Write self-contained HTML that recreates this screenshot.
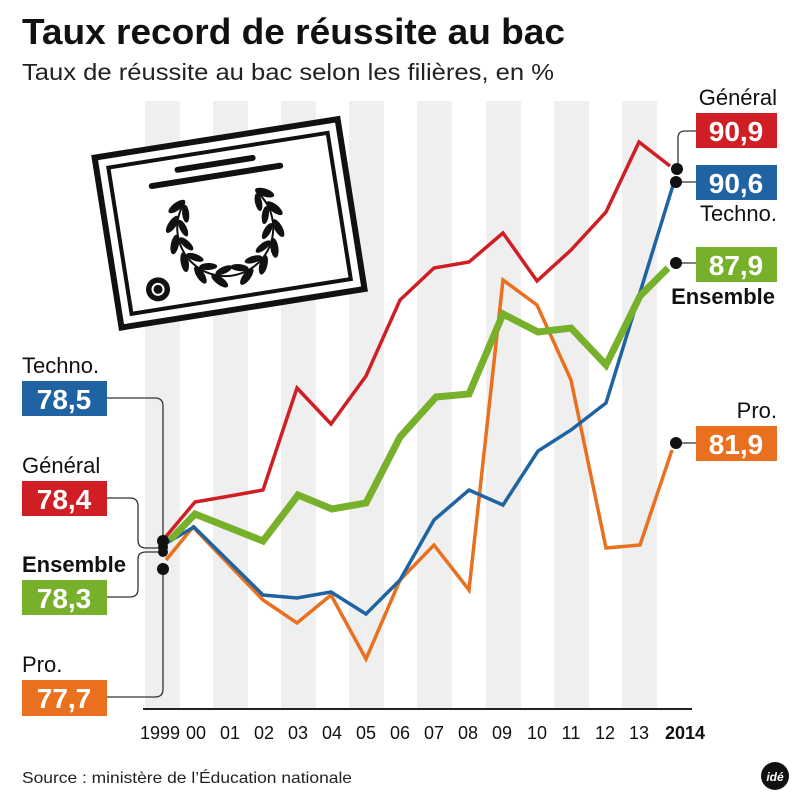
<!DOCTYPE html>
<html><head><meta charset="utf-8"><style>
body{margin:0;background:#fff}
svg{display:block;font-family:"Liberation Sans",sans-serif}
</style></head><body>
<svg width="800" height="800" viewBox="0 0 800 800">
<defs>
<g id="leaf2"><ellipse cx="53" cy="0" rx="4" ry="10" transform="rotate(30 53 0)"/><ellipse cx="42" cy="-3" rx="3.5" ry="9" transform="rotate(-30 42 -3)"/></g>
<g id="branch">
<circle cx="0" cy="0" r="48" fill="none" stroke="#111" stroke-width="2" stroke-dasharray="0 75 110 200"/>
<use href="#leaf2" transform="rotate(105)"/><use href="#leaf2" transform="rotate(127)"/><use href="#leaf2" transform="rotate(149)"/><use href="#leaf2" transform="rotate(171)"/><use href="#leaf2" transform="rotate(193)"/><use href="#leaf2" transform="rotate(213)"/>
</g>
</defs>
<g fill="#efefef">
<rect x="145" y="101" width="35" height="608"/><rect x="213" y="101" width="35" height="608"/>
<rect x="281" y="101" width="35" height="608"/><rect x="349" y="101" width="35" height="608"/>
<rect x="417" y="101" width="35" height="608"/><rect x="486" y="101" width="35" height="608"/>
<rect x="554" y="101" width="35" height="608"/><rect x="622" y="101" width="35" height="608"/>
</g>
<line x1="143" y1="709" x2="692" y2="709" stroke="#222" stroke-width="2"/>
<text x="22" y="44" font-size="36" font-weight="bold" fill="#111" textLength="543" lengthAdjust="spacingAndGlyphs">Taux record de réussite au bac</text>
<text x="22" y="80" font-size="23" fill="#222" textLength="532" lengthAdjust="spacingAndGlyphs">Taux de réussite au bac selon les filières, en %</text>
<!-- certificate -->
<g transform="rotate(-9 225 220)">
<rect x="106" y="138" width="246" height="172" fill="#fff" stroke="#111" stroke-width="6"/>
<rect x="118" y="150" width="222" height="148" fill="none" stroke="#111" stroke-width="4"/>
<line x1="186" y1="163" x2="262" y2="163" stroke="#111" stroke-width="6" stroke-linecap="round"/>
<line x1="158" y1="175" x2="288" y2="175" stroke="#111" stroke-width="6" stroke-linecap="round"/>
<g fill="#111" transform="translate(224 228)">
<use href="#branch"/>
<use href="#branch" transform="scale(-1 1)"/>
</g>
<g fill="#111"><circle cx="148" cy="278" r="12"/></g>
<circle cx="148" cy="278" r="6.5" fill="#fff"/><circle cx="148" cy="278" r="4.5" fill="#111"/>
</g>
<!-- series -->
<g fill="none" stroke-linejoin="miter">
<polyline stroke="#cf1f25" stroke-width="3.5" points="163,540 195,502 230,496 263,490 297,388 331,424 366,376 400,300 434,268 469,262 503,233 537,281 571,250 606,212 639,142 670,166"/>
<polyline stroke="#e8701f" stroke-width="3.5" points="166,560 193,527 263,600 297,623 331,595 366,659 400,580 434,545 469,590 503,280 537,305 571,380 606,548 640,545 672,450"/>
<polyline stroke="#1f63a3" stroke-width="3.5" points="163,545 194,527 263,595 297,598 331,592 366,614 400,580 434,520 469,490 503,505 538,451 571,430 606,403 674,182"/>
<polyline stroke="#77b02b" stroke-width="7" points="170,540 195,514 263,541 298,495 332,509 366,503 400,437 436,397 469,394 503,314 538,332 571,328 606,365 640,296 668,268"/>
</g>
<!-- connectors -->
<g fill="none" stroke="#333" stroke-width="1.3">
<path d="M107 398 H155 Q163 398 163 406 V540"/>
<path d="M107 498 H130 Q138 498 138 506 V540 Q138 548 146 548 H160"/>
<path d="M107 597 H130 Q138 597 138 589 V559 Q138 552 146 552 H160"/>
<path d="M107 697 H155 Q163 697 163 689 V570"/>
<path d="M696 131 H685 Q678 131 678 138 V166"/>
<path d="M682 182 H696 M682 263 H696 M682 443 H696"/>
</g>
<g fill="#111">
<circle cx="163" cy="541" r="6"/><circle cx="163" cy="547" r="5"/><circle cx="163" cy="552" r="5"/><circle cx="163" cy="569" r="6"/>
<circle cx="677" cy="169" r="6"/><circle cx="676" cy="182" r="6"/><circle cx="676" cy="263" r="6"/><circle cx="676" cy="443" r="6"/>
</g>
<!-- boxes -->
<g font-size="28" font-weight="bold" fill="#fff" text-anchor="middle">
<rect x="22" y="381" width="85" height="35" fill="#1f63a3"/><text x="64" y="409">78,5</text>
<rect x="22" y="481" width="85" height="35" fill="#cf1f25"/><text x="64" y="509">78,4</text>
<rect x="22" y="580" width="85" height="35" fill="#77b02b"/><text x="64" y="608">78,3</text>
<rect x="22" y="680" width="85" height="36" fill="#e8701f"/><text x="64" y="708">77,7</text>
<rect x="696" y="113" width="81" height="35" fill="#cf1f25"/><text x="736" y="141">90,9</text>
<rect x="696" y="165" width="81" height="35" fill="#1f63a3"/><text x="736" y="193">90,6</text>
<rect x="696" y="247" width="81" height="35" fill="#77b02b"/><text x="736" y="275">87,9</text>
<rect x="696" y="426" width="81" height="35" fill="#e8701f"/><text x="736" y="454">81,9</text>
</g>
<g font-size="22" fill="#111">
<text x="22" y="373">Techno.</text><text x="22" y="473">Général</text>
<text x="22" y="572" font-weight="bold">Ensemble</text><text x="22" y="672">Pro.</text>
<g text-anchor="end"><text x="777" y="105">Général</text><text x="777" y="221">Techno.</text>
<text x="775" y="304" font-weight="bold">Ensemble</text><text x="777" y="418">Pro.</text></g>
</g>
<g font-size="18" fill="#111" text-anchor="middle">
<text x="160" y="739">1999</text><text x="196" y="739">00</text><text x="230" y="739">01</text><text x="264" y="739">02</text><text x="298" y="739">03</text><text x="332" y="739">04</text><text x="366" y="739">05</text><text x="400" y="739">06</text><text x="434" y="739">07</text><text x="468" y="739">08</text><text x="502" y="739">09</text><text x="537" y="739">10</text><text x="571" y="739">11</text><text x="605" y="739">12</text><text x="639" y="739">13</text><text x="685" y="739" font-weight="bold">2014</text>
</g>
<text x="22" y="783" font-size="16" fill="#222" textLength="330" lengthAdjust="spacingAndGlyphs">Source : ministère de l’Éducation nationale</text>
<circle cx="775" cy="776" r="14" fill="#111"/>
<text x="775" y="781" font-size="12" font-weight="bold" fill="#fff" text-anchor="middle" font-style="italic">idé</text>
</svg>
</body></html>
